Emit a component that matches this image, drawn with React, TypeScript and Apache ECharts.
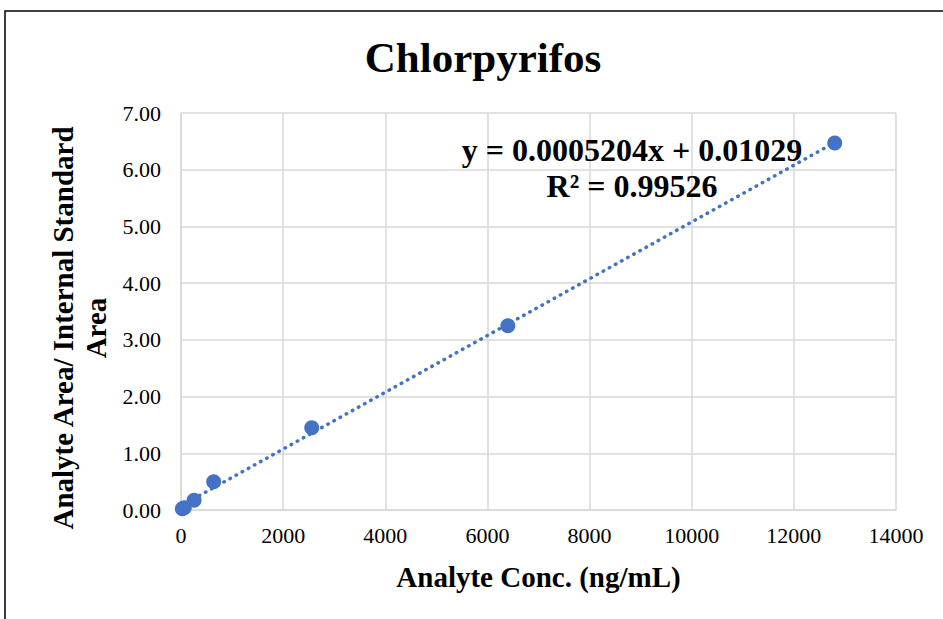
import React, { useEffect, useRef } from "react";
import * as echarts from "echarts";

const concentrations = [25.6, 64, 256, 640, 2560, 6400, 12800];
const ratios = [0.02, 0.04, 0.17, 0.5, 1.45, 3.25, 6.47];
const xTicks = [0, 2000, 4000, 6000, 8000, 10000, 12000, 14000];
const yTicks = [0, 1, 2, 3, 4, 5, 6, 7];
const titleText = "Chlorpyrifos";
const xAxisTitle = "Analyte Conc. (ng/mL)";
const yAxisTitle = "Analyte Area/ Internal Standard\nArea";
const equationText = "y = 0.0005204x + 0.01029";
const r2Text = "R² = 0.99526";

function fitLine(xs: number[], ys: number[]) {
  const n = xs.length;
  const mx = xs.reduce((a, b) => a + b, 0) / n;
  const my = ys.reduce((a, b) => a + b, 0) / n;
  let sxy = 0, sxx = 0;
  for (let i = 0; i < n; i++) {
    sxy += (xs[i] - mx) * (ys[i] - my);
    sxx += (xs[i] - mx) * (xs[i] - mx);
  }
  const slope = sxy / sxx;
  return { slope, intercept: my - slope * mx };
}

export default function App() {
  const ref = useRef<HTMLDivElement>(null);
  useEffect(() => {
    if (!ref.current) return;
    const chart = echarts.init(ref.current, undefined, { renderer: "svg" });
    const { slope, intercept } = fitLine(concentrations, ratios);
    const x0 = 0;
    const x1 = concentrations[concentrations.length - 1];
    const font = "'Liberation Serif', 'Times New Roman', serif";
    chart.setOption({
      animation: false,
      backgroundColor: "#ffffff",
      title: {
        text: titleText,
        left: 478,
        top: 31,
        textAlign: "center",
        textStyle: { fontFamily: font, fontSize: 43, fontWeight: "bold", color: "#000" },
      },
      grid: { left: 181, right: 47, top: 113, bottom: 109 },
      xAxis: {
        type: "value",
        min: 0,
        max: 14000,
        interval: 2000,
        name: xAxisTitle,
        nameLocation: "middle",
        nameGap: 52,
        nameTextStyle: { fontFamily: font, fontSize: 29, fontWeight: "bold", color: "#000" },
        axisLine: { show: true, lineStyle: { color: "#d9d9d9", width: 1.5 } },
        axisTick: { show: false },
        axisLabel: {
          fontFamily: font, fontSize: 22, color: "#000", margin: 14,
          formatter: (v: number) => (xTicks.includes(v) ? String(v) : ""),
        },
        splitLine: { show: true, lineStyle: { color: "#d9d9d9", width: 1.5 } },
      },
      yAxis: {
        type: "value",
        min: 0,
        max: 7,
        interval: 1,
        axisLine: { show: true, lineStyle: { color: "#d9d9d9", width: 1.5 } },
        axisTick: { show: false },
        axisLabel: {
          fontFamily: font, fontSize: 22, color: "#000", margin: 20,
          formatter: (v: number) => (yTicks.includes(v) ? v.toFixed(2) : ""),
        },
        splitLine: { show: true, lineStyle: { color: "#d9d9d9", width: 1.5 } },
      },
      graphic: [
        {
          type: "rect",
          shape: { x: 5, y: 11, width: 960, height: 640 },
          style: { fill: "none", stroke: "#000", lineWidth: 1.5 },
          silent: true,
        },
        {
          type: "text",
          x: 79,
          y: 328,
          rotation: Math.PI / 2,
          style: {
            text: yAxisTitle,
            align: "center",
            verticalAlign: "middle",
            font: `bold 29px ${font}`,
            lineHeight: 33,
            fill: "#000",
          },
        },
        {
          type: "text",
          x: 632,
          y: 150,
          style: {
            text: equationText,
            align: "center",
            verticalAlign: "middle",
            font: `bold 32px ${font}`,
            fill: "#000",
          },
          z: 10,
        },
        {
          type: "text",
          x: 632,
          y: 186,
          style: {
            text: r2Text,
            align: "center",
            verticalAlign: "middle",
            font: `bold 32px ${font}`,
            fill: "#000",
          },
          z: 10,
        },
      ],
      series: [
        {
          type: "line",
          data: [
            [x0, slope * x0 + intercept],
            [x1, slope * x1 + intercept],
          ],
          showSymbol: false,
          symbol: "none",
          lineStyle: { color: "#4472C4", width: 3.5, type: [0.5, 6.5], cap: "round" },
          z: 2,
        },
        {
          type: "scatter",
          data: concentrations.map((c, i) => [c, ratios[i]]),
          symbol: "circle",
          symbolSize: 15,
          itemStyle: { color: "#4472C4", opacity: 1 },
          z: 3,
        },
      ],
    });
    return () => chart.dispose();
  }, []);
  return (
    <div
      ref={ref}
      style={{ position: "absolute", left: 0, top: 0, width: 943, height: 619 }}
    />
  );
}
